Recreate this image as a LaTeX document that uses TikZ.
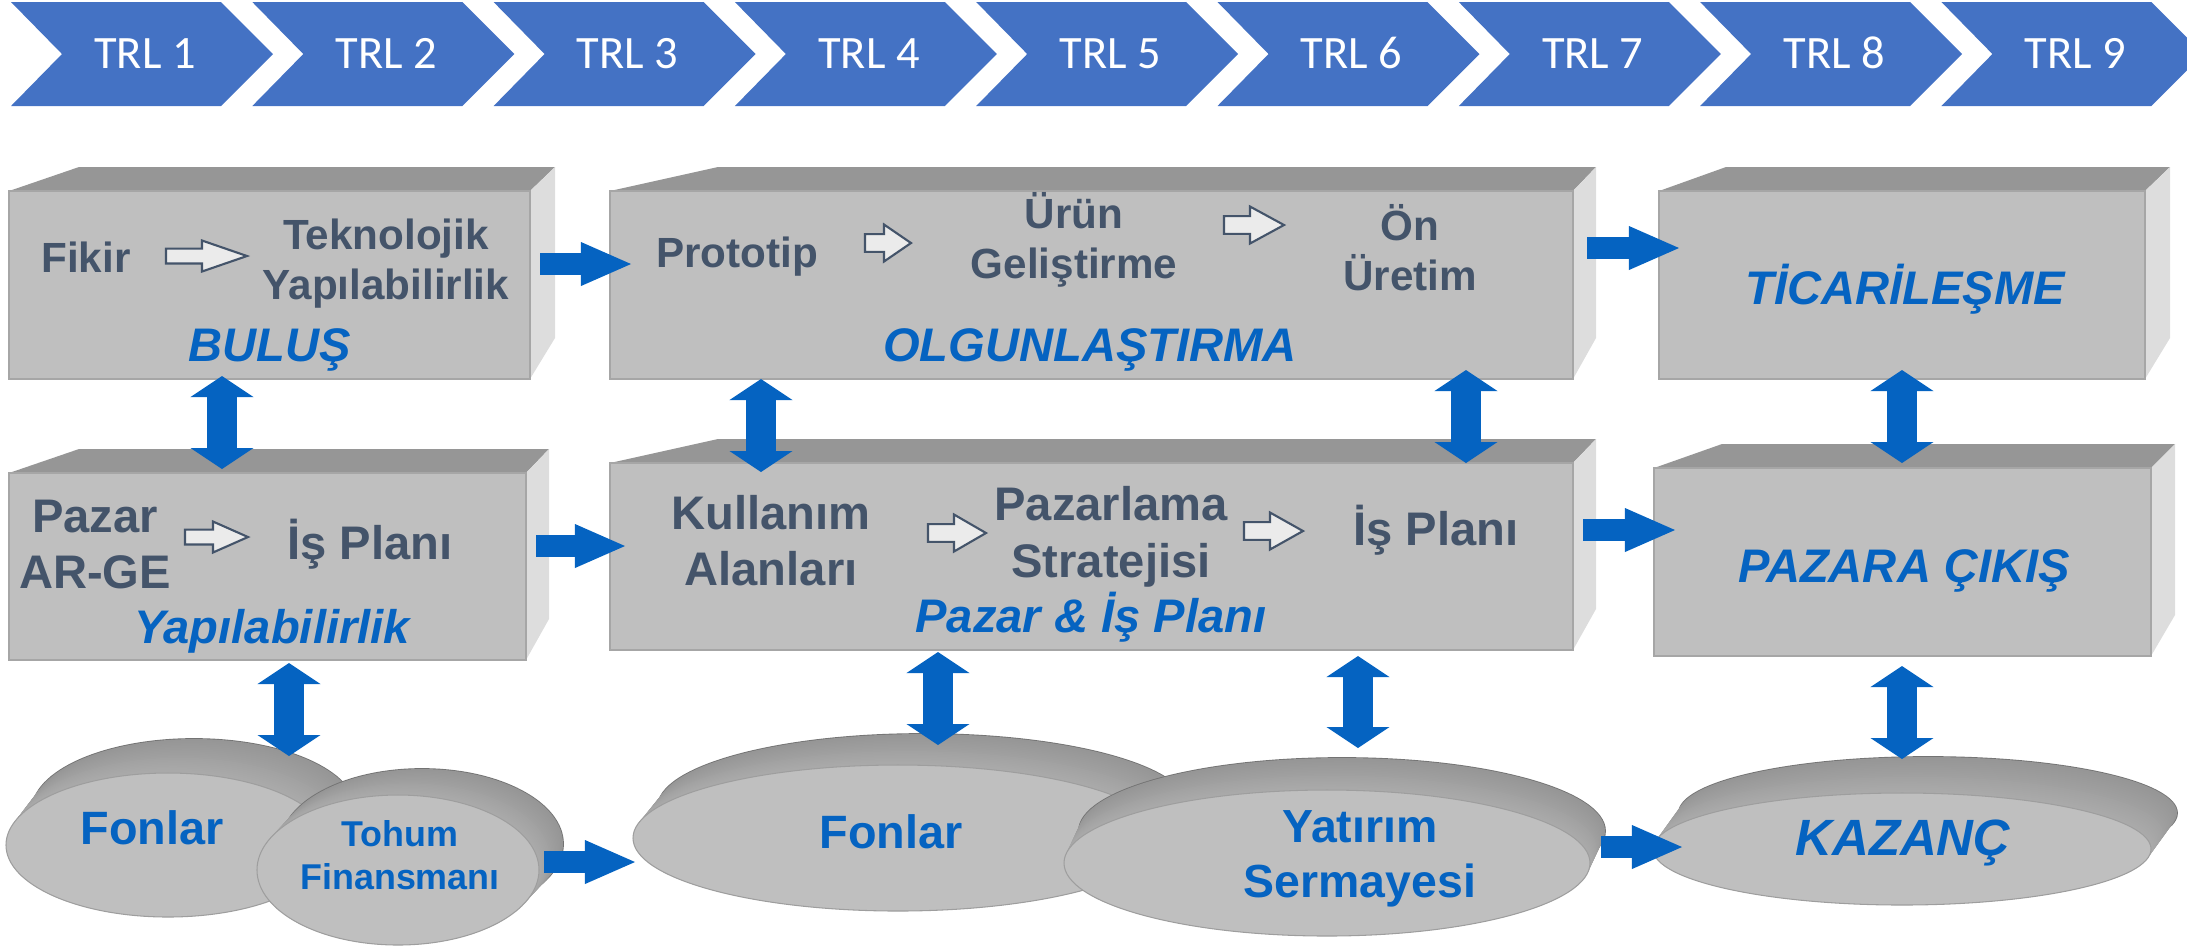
\documentclass[tikz,border=0pt]{standalone}
\usepackage{fontspec}
\setmainfont{Liberation Sans}
\newfontfamily\calibrifont{Carlito}
\usetikzlibrary{arrows.meta,calc,shapes.geometric}

\definecolor{trlblue}{HTML}{4472C4}
\definecolor{slate}{HTML}{44546A}
\definecolor{linkblue}{HTML}{0563C1}
\definecolor{facegray}{HTML}{BFBFBF}
\definecolor{topgray}{HTML}{969696}
\definecolor{sidegray}{HTML}{DDDDDD}
\definecolor{edgegray}{HTML}{A6A6A6}
\definecolor{discdark}{HTML}{969696}
\definecolor{disclight}{HTML}{ABABAB}

\tikzset{
  trltext/.style={text=white, font=\calibrifont\fontsize{13.2}{15}\selectfont, anchor=base, inner sep=0pt},
  slabtop/.style={fill=topgray},
  slabside/.style={fill=sidegray},
  slabfront/.style={draw=edgegray, fill=facegray, line width=0.4pt, inner sep=0pt, outer sep=0pt},
  discface/.style={ellipse, draw=black!38, fill=facegray, line width=0.3pt, inner sep=0pt, outer sep=0pt},
  graytext/.style={text=slate, font=\bfseries\fontsize{12}{14.2}\selectfont, align=center, anchor=base, inner sep=0pt},
  graybig/.style={graytext, font=\bfseries\fontsize{13.4}{15.7}\selectfont},
  phase/.style={text=linkblue, font=\bfseries\itshape\fontsize{13.4}{16}\selectfont, anchor=base, inner sep=0pt},
  disctext/.style={text=linkblue, font=\bfseries\fontsize{13.3}{15.6}\selectfont, align=center, anchor=base, inner sep=0pt},
  hollowarrow/.style={draw=slate, fill=black!8, line width=0.6pt, line join=miter},
  hflow/.style={draw=linkblue, line width=0.22cm, -{Triangle[length=0.5cm, width=0.44cm, line width=0pt]}},
  vflow/.style={draw=linkblue, line width=0.3cm,
    {Triangle[length=0.21cm, width=0.63cm, line width=0pt]}-{Triangle[length=0.21cm, width=0.63cm, line width=0pt]}},
}

% name, x1, y1, x2, y2, back left x, back right x
\newcommand{\slab}[7]{%
  \fill[slabtop] (#2,#3) -- (#6,#3-24) -- (#7,#3-24) -- (#4,#3) -- cycle;
  \fill[slabside] (#4,#3) -- (#7,#3-24) -- (#7,#5-41) -- (#4,#5) -- cycle;
  \node[slabfront, minimum width={(#4-#2)*0.01cm}, minimum height={(#5-#3)*0.01cm}] (#1) at ({(#2+#4)/2},{(#3+#5)/2}) {};
}
% name, cx, cy, rx, ry, back dx, back dy (up)
\newcommand{\disc}[7]{%
  \draw[black!55, line width=0.5pt] (#2+#6,#3-#7) ellipse [x radius=#4, y radius=#5];
  \foreach \t in {1.0,0.95,...,0.0}{
    \pgfmathsetmacro\m{100*\t}
    \fill[discdark!\m!disclight] (#2+\t*#6,#3-\t*#7) ellipse [x radius=#4, y radius=#5];
  }
  \node[discface, minimum width={2*#4*0.01cm}, minimum height={2*#5*0.01cm}] (#1) at (#2,#3) {};
}
% x1, head x, x2, y, half height
\newcommand{\hollow}[5]{%
  \draw[hollowarrow] (#1,#4-0.48*#5) -- (#2,#4-0.48*#5) -- (#2,#4-#5) -- (#3,#4)
    -- (#2,#4+#5) -- (#2,#4+0.48*#5) -- (#1,#4+0.48*#5) -- cycle;
}

\begin{document}
\begin{tikzpicture}[x=0.01cm, y=-0.01cm]
  \useasboundingbox (0,0) rectangle (2187,947);
  \clip (0,0) rectangle (2187,947);

  % TRL chevrons
  \foreach \i in {1,...,9}{
    \pgfmathsetmacro\xl{11+241.3*(\i-1)}
    \fill[trlblue] (\xl,2) -- (\xl+210,2) -- (\xl+262,54) -- (\xl+210,106) -- (\xl,106) -- (\xl+51,54) -- cycle;
    \node[trltext] (trl\i) at (\xl+134,68) {TRL \i};
  }

  % boxes
  \slab{bulus}{9}{191}{530}{379}{79}{555}
  \slab{olg}{610}{191}{1573}{379}{718}{1596}
  \slab{tic}{1659}{191}{2145}{379}{1726}{2170}
  \slab{yap}{9}{473}{526}{660}{79}{549}
  \slab{pazar}{610}{463}{1573}{650}{718}{1596}
  \slab{cikis}{1654}{468}{2151}{656}{1722}{2175}

  % texts in the boxes (multi-line: placed at last baseline)
  \node[graytext] (fikir) at (86,272) {Fikir};
  \node[graytext] (tekno) at (386,299) {Teknolojik\\Yapılabilirlik};
  \node[graytext] (prototip) at (737,267) {Prototip};
  \node[graytext] (urun) at (1074,278) {Ürün\\Geliştirme};
  \node[graytext] (onuretim) at (1410,290) {Ön\\Üretim};
  \node[graybig] (pazarge) at (95,588) {Pazar\\AR-GE};
  \node[graybig] (isplani) at (370,559) {İş Planı};
  \node[graybig] (kullanim) at (771,585) {Kullanım\\Alanları};
  \node[graybig, font=\bfseries\fontsize{13.4}{16.2}\selectfont] (pazarlama) at (1111,577) {Pazarlama\\Stratejisi};
  \node[graybig] (isplanib) at (1436,545) {İş Planı};

  \hollow{166}{202}{247}{256}{15.5} % Fikir
  \hollow{865}{884}{911}{243}{18.5} % Prototip
  \hollow{1224}{1250}{1284}{225}{18.5} % Gelistirme
  \hollow{185}{213}{248}{537}{15.5} % AR-GE
  \hollow{928}{954}{986}{533}{18.5} % Kullanim
  \hollow{1244}{1270}{1303}{531}{18.5} % Pazarlama

  \node[phase] (bulusl) at (270,361) {BULUŞ};
  \node[phase] (olgl) at (1090,361) {OLGUNLAŞTIRMA};
  \node[phase] (ticl) at (1905,304) {TİCARİLEŞME};
  \node[phase] (yapl) at (272,643) {Yapılabilirlik};
  \node[phase] (pazarl) at (1091,632) {Pazar \& İş Planı};
  \node[phase] (cikisl) at (1904,582) {PAZARA ÇIKIŞ};

  % discs
  \disc{fonlara}{168}{845}{162}{72}{26}{34}
  \disc{tohum}{398}{870}{141}{75}{24}{26}
  \disc{fonlarb}{898}{838}{265}{73}{25}{31}
  \disc{yatirim}{1327}{863}{263}{73}{15}{32}
  \disc{kazanc}{1902}{849}{249}{56}{26}{36}

  \node[disctext] (fonlaral) at (152,844) {Fonlar};
  \node[disctext, font=\bfseries\fontsize{10.2}{12.2}\selectfont] (tohuml) at (400,889) {Tohum\\Finansmanı};
  \node[disctext] (fonlarbl) at (891,848) {Fonlar};
  \node[disctext, font=\bfseries\fontsize{13.2}{15.6}\selectfont] (yatiriml) at (1360,897) {Yatırım\\Sermayesi};
  \node[disctext, font=\bfseries\itshape\fontsize{14.5}{17}\selectfont] (kazancl) at (1903,855) {KAZANÇ};

  % flows
  \draw[hflow] ($(bulus.east)+(10,-21)$) -- ($(olg.west)+(21,-21)$);
  \draw[hflow] ($(yap.east)+(10,-20.5)$) -- ($(pazar.west)+(15,-10.5)$);
  \draw[hflow] ($(olg.east)+(14,-37)$) -- ($(tic.west)+(20,-37)$);
  \draw[hflow] ($(pazar.east)+(10,-26.5)$) -- ($(cikis.west)+(21,-32)$);
  \draw[hflow] ($(tohum.east)+(5,-8)$) -- ($(fonlarb.west)+(2,24)$);
  \draw[hflow] ($(yatirim.east)+(11,-16)$) -- ($(kazanc.west)+(29,-2)$);

  \draw[vflow] ($(bulus.south)+(-47.5,-3)$) -- ($(yap.north)+(-45.5,-4)$);
  \draw[vflow] ($(olg.south)+(-330.5,0)$) -- ($(pazar.north)+(-330.5,9)$);
  \draw[vflow] ($(olg.south)+(374.5,-9)$) -- ($(pazar.north)+(374.5,0)$);
  \draw[vflow] ($(tic.south)+(0,-9)$) -- ($(cikis.north)+(-0.5,-5)$);
  \draw[vflow] ($(yap.south)+(21.5,3)$) -- ($(fonlara.north)+(121,-17)$);
  \draw[vflow] ($(pazar.south)+(-153.5,2)$) -- ($(fonlarb.north)+(40,-20)$);
  \draw[vflow] ($(pazar.south)+(266.5,6)$) -- ($(yatirim.north)+(31,-42)$);
  \draw[vflow] ($(cikis.south)+(-0.5,10)$) -- ($(kazanc.north)+(0,-34)$);
\end{tikzpicture}
\end{document}
